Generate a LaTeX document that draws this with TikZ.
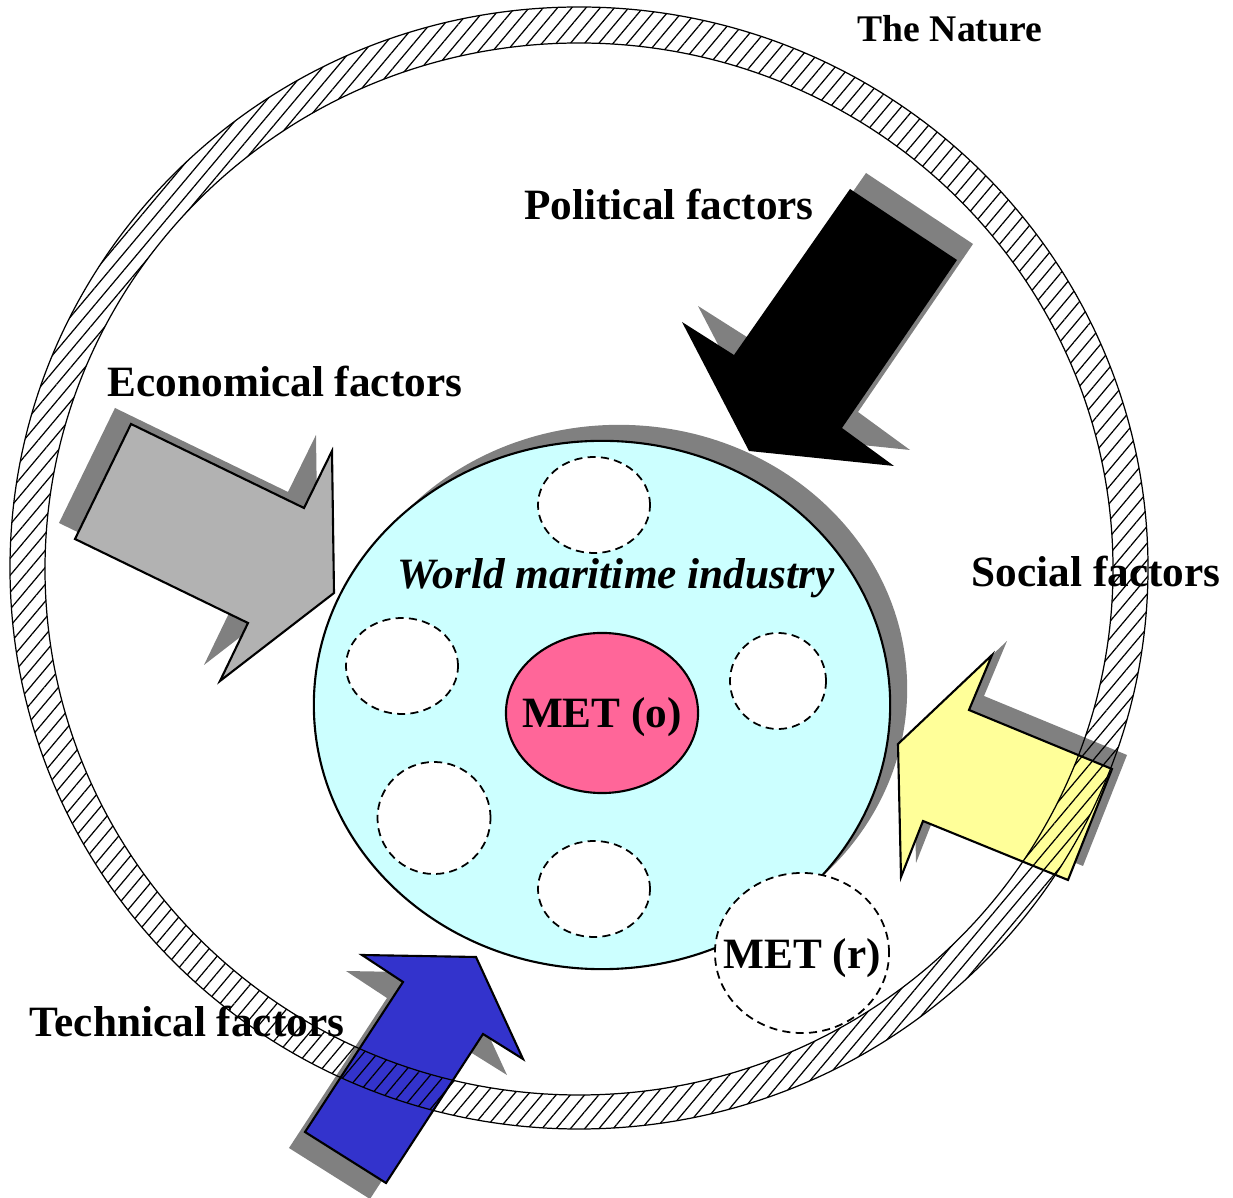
\documentclass[tikz,border=0pt]{standalone}
\usepackage{fontspec}
\setmainfont{Liberation Serif}
\usetikzlibrary{shapes.geometric,shadows,patterns.meta}
\definecolor{shadowgray}{RGB}{128,128,128}
\definecolor{econ}{RGB}{178,178,178}
\definecolor{social}{RGB}{255,255,153}
\definecolor{techn}{RGB}{51,51,204}
\definecolor{sea}{RGB}{204,255,255}
\definecolor{metpink}{RGB}{255,102,153}
\tikzset{cast shadow/.style 2 args={
    drop shadow={shadow xshift=#1, shadow yshift=#2, fill=shadowgray, opacity=1}
  },
  factor/.style={draw, line width=0.6pt, line join=miter},
  industry/.style={ellipse, draw, line width=0.6pt, fill=sea, inner sep=0pt,
    minimum width=5.76cm, minimum height=5.28cm},
  met/.style={ellipse, draw, line width=0.6pt, inner sep=0pt},
  slot/.style={ellipse, draw, line width=0.5pt, dash pattern=on 2.3pt off 1.5pt,
    fill=white, inner sep=0pt},
  factor text/.style={font=\bfseries\fontsize{12.3}{14}\selectfont, anchor=base, inner sep=0pt}
}

\begin{document}
\begin{tikzpicture}[x=0.01cm,y=-0.01cm]
    \useasboundingbox (0,0) rectangle (1233,1198);
    % the industry
    \node[industry, cast shadow={0.17cm}{0.16cm}] (world) at (602,705) {};
    \foreach \px/\py/\w/\h [count=\i] in {594/505/1.12/0.96, 402/666/1.12/0.96, 778/681/0.96/0.96, 434/818/1.13/1.12, 594/889/1.12/0.96}
        \node[slot, minimum width=\w cm, minimum height=\h cm] (slot\i) at (\px,\py) {};
    \node[met, fill=metpink, minimum width=1.92cm, minimum height=1.60cm] (meto) at (602,713) {};
    \node[slot, minimum width=1.74cm, minimum height=1.60cm] (metr) at (802,953) {};

    % factors
    \draw[factor, fill=econ, cast shadow={-0.16cm}{0.16cm}] (131,424) -- (304,508) -- (332,451) -- (334,593) -- (220,681) -- (248,623) -- (75,539) -- cycle;
    \fill[black, cast shadow={0.16cm}{0.16cm}] (850,189) -- (957,260) -- (842,428) -- (894,466) -- (749,451) -- (682,322) -- (734,355) -- cycle;
    \draw[factor, fill=social, cast shadow={0.15cm}{0.14cm}] (898,744) -- (992,655) -- (969,710) -- (1112,769) -- (1068,880) -- (923,821) -- (901,877) -- cycle;
    \draw[factor, fill=techn, cast shadow={-0.16cm}{-0.16cm}] (362,955) -- (476,957) -- (523,1059) -- (483,1034) -- (386,1183) -- (305,1132) -- (403,982) -- cycle;

    % the nature
    \draw[line width=0.35pt, even odd rule, pattern={Lines[angle=50,distance=3.1pt,line width=0.35pt]}]
        (579,568) ellipse [x radius=569, y radius=561] (579,569) ellipse [x radius=534, y radius=526];

    \node[factor text] (nature) at (950,42) {\fontsize{10.7}{12}\selectfont The Nature};
    \node[factor text] (political) at (669,220) {Political factors};
    \node[factor text] (economical) at (285,397) {Economical factors};
    \node[factor text] (socialtext) at (1096,587) {Social factors};
    \node[factor text] (technical) at (187,1037) {Technical factors};
    \node[factor text, font=\bfseries\itshape\fontsize{12.3}{14}\selectfont] (worldtext) at (616,589) {World maritime industry};
    \node[factor text] (metotext) at (602,728) {MET (o)};
    \node[factor text] (metrtext) at (802,969) {MET (r)};
\end{tikzpicture}
\end{document}
